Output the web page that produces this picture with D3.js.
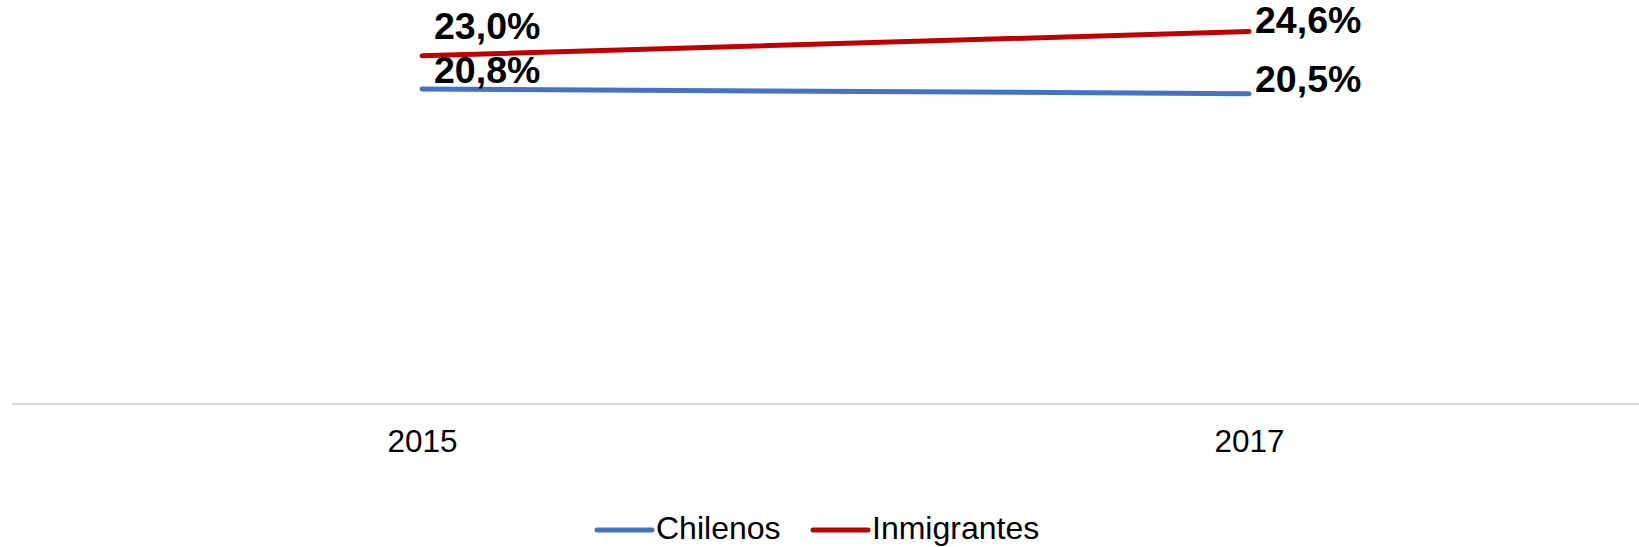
<!DOCTYPE html>
<html><head><meta charset="utf-8">
<script src="https://cdn.jsdelivr.net/npm/d3@7"></script>
<style>body{margin:0;background:#fff}svg{display:block}text{font-family:"Liberation Sans",Arial,sans-serif}</style>
</head><body><svg id="c" width="1639" height="547"></svg>
<script>
const years = ["2015", "2017"];
const chilenos = [20.8, 20.5];
const inmigrantes = [23.0, 24.6];
const seriesNames = ["Chilenos", "Inmigrantes"];
const seriesColors = ["#4472C4", "#C00000"];

const svg = d3.select("#c");
const x = d3.scalePoint().domain(years).range([422, 1249]);
const y = d3.scaleLinear().domain([0, 30]).range([404, 404 - 30 * 15.14]);

svg.append("line").attr("x1", 12).attr("x2", 1639).attr("y1", 404).attr("y2", 404)
  .attr("stroke", "#D9D9D9").attr("stroke-width", 2);

const ax = svg.append("g").attr("transform", "translate(0,404)")
  .call(d3.axisBottom(x).tickSize(0).tickPadding(26));
ax.select(".domain").remove();
ax.selectAll("text").attr("font-size", 31.5).attr("fill", "#000")
  .style("font-family", '"Liberation Sans",Arial,sans-serif');

const series = [
  {name: seriesNames[0], values: chilenos, color: seriesColors[0], dys: [-6, -2]},
  {name: seriesNames[1], values: inmigrantes, color: seriesColors[1], dys: [-17, 1]}
];
const line = d3.line().x((d, i) => x(years[i])).y(d => y(d));
series.forEach(s => {
  svg.append("path").datum(s.values).attr("d", line).attr("fill", "none")
    .attr("stroke", s.color).attr("stroke-width", 5).attr("stroke-linecap", "round");
  s.values.forEach((v, i) => {
    svg.append("text").attr("x", x(years[i]) + (i === 0 ? 12 : 6)).attr("y", y(v) + s.dys[i])
      .attr("font-size", 37.5).attr("font-weight", "bold").attr("fill", "#000")
      .text(v.toFixed(1).replace(".", ",") + "%");
  });
});

const legX = [597, 813];
series.forEach((s, i) => {
  svg.append("line").attr("x1", legX[i]).attr("x2", legX[i] + 55).attr("y1", 530).attr("y2", 530)
    .attr("stroke", s.color).attr("stroke-width", 5).attr("stroke-linecap", "round");
  svg.append("text").attr("x", legX[i] + 59).attr("y", 539).attr("font-size", 32).attr("fill", "#000").text(s.name);
});
</script></body></html>
